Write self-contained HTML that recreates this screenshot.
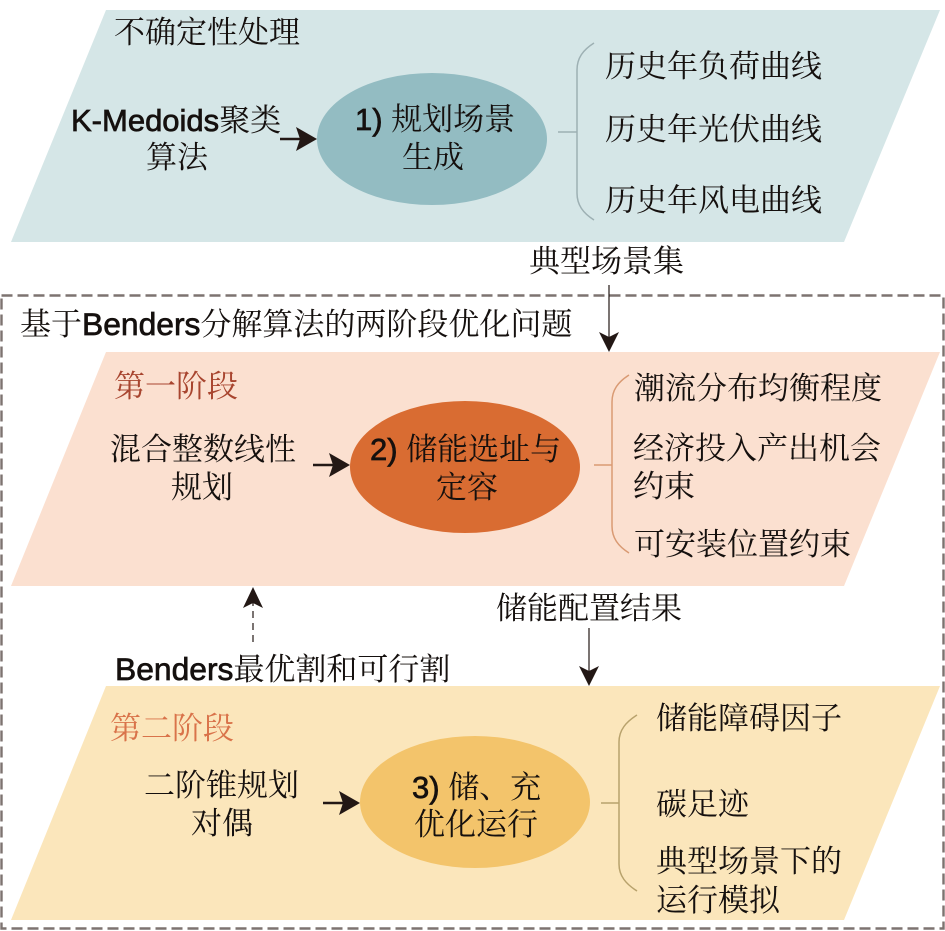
<!DOCTYPE html>
<html lang="zh">
<head>
<meta charset="utf-8">
<style>
html,body{margin:0;padding:0;background:#fff;width:945px;height:931px;overflow:hidden}
svg{display:block}
text{font-family:"Liberation Sans","Noto Serif CJK SC",serif;font-size:31px;fill:#15100e}
.l{stroke:#15100e;stroke-width:.7px}
.b{font-size:31.8px}
</style>
</head>
<body>
<svg width="945" height="931" viewBox="0 0 945 931" xmlns="http://www.w3.org/2000/svg">
<rect width="945" height="931" fill="#fff"/>
<rect x="1.5" y="295.5" width="942" height="633" fill="none" stroke="#7d7370" stroke-width="2.4" stroke-dasharray="11 5"/>

<polygon points="106,10 940,10 844,242 11,242" fill="#d5e6e7"/>
<polygon points="106,352 940,352 844,586 11,586" fill="#fbe0d0"/>
<polygon points="106,686 940,686 844,920 11,920" fill="#fbe6bb"/>

<ellipse cx="432" cy="139" rx="115" ry="66" fill="#93bcc2"/>
<ellipse cx="465" cy="467" rx="115" ry="66" fill="#d96c32"/>
<ellipse cx="475" cy="802" rx="115" ry="66" fill="#f3c46b"/>

<g fill="none" stroke-width="1.5">
<path d="M594,43 C583,50 577,58 577,70 V193 C577,205 583,213 594,220 M558,132 H577" stroke="#9db0b3"/>
<path d="M629,375 C618,382 612,390 612,402 V526 C612,538 618,546 629,553 M594,465 H612" stroke="#d99a73"/>
<path d="M637,715 C626,722 619,730 619,742 V864 C619,876 626,884 637,891 M601,803 H619" stroke="#b8a26c"/>
</g>

<g stroke="#231815" stroke-width="2.5" fill="none">
<path d="M280,139 H302"/><path d="M313,465 H335"/><path d="M323,803 H345"/>
</g>
<g fill="#231815">
<polygon points="317,139 296,127 300,139 296,151"/>
<polygon points="350,465 329,453 333,465 329,477"/>
<polygon points="360,803 339,791 343,803 339,815"/>
</g>
<path d="M609,285 V340 M589,628 V675" stroke="#231815" stroke-width="1.2" fill="none"/>
<path d="M253,642 V600" stroke="#231815" stroke-width="1.2" stroke-dasharray="7 5" fill="none"/>
<g fill="#231815">
<polygon points="609,352 599,332 609,337 619,332"/>
<polygon points="589,686 579,666 589,671 599,666"/>
<polygon points="253,587 243,608 253,603 263,608"/>
</g>

<g transform="translate(-1,1)">
<text x="115" y="42">不确定性处理</text>
<text x="72" y="130" class="l">K-Medoids<tspan stroke="none">聚类</tspan></text>
<text x="147" y="167">算法</text>
<text x="356" y="129" class="l">1) <tspan stroke="none">规划场景</tspan></text>
<text x="403" y="167">生成</text>
<text x="606" y="76">历史年负荷曲线</text>
<text x="606" y="139">历史年光伏曲线</text>
<text x="606" y="210">历史年风电曲线</text>
<text x="530" y="271">典型场景集</text>

<text x="21" y="334" class="l"><tspan stroke="none">基于</tspan><tspan class="b">Benders</tspan><tspan stroke="none">分解算法的两阶段优化问题</tspan></text>
<text x="115" y="396" style="fill:#a8452f">第一阶段</text>
<text x="111" y="459">混合整数线性</text>
<text x="172" y="497">规划</text>
<text x="371" y="459" class="l">2) <tspan stroke="none">储能选址与</tspan></text>
<text x="437" y="497">定容</text>
<text x="635" y="398">潮流分布均衡程度</text>
<text x="634" y="458">经济投入产出机会</text>
<text x="634" y="496">约束</text>
<text x="635" y="554">可安装位置约束</text>

<text x="497" y="618">储能配置结果</text>
<text x="116" y="679" class="l"><tspan class="b">Benders</tspan><tspan stroke="none">最优割和可行割</tspan></text>

<text x="111" y="738" style="fill:#d9734a">第二阶段</text>
<text x="145" y="795">二阶锥规划</text>
<text x="192" y="833">对偶</text>
<text x="413" y="797" class="l">3) <tspan stroke="none">储、充</tspan></text>
<text x="415" y="834">优化运行</text>
<text x="657" y="728">储能障碍因子</text>
<text x="657" y="814">碳足迹</text>
<text x="657" y="871">典型场景下的</text>
<text x="657" y="910">运行模拟</text>
</g>
</svg>
</body>
</html>
